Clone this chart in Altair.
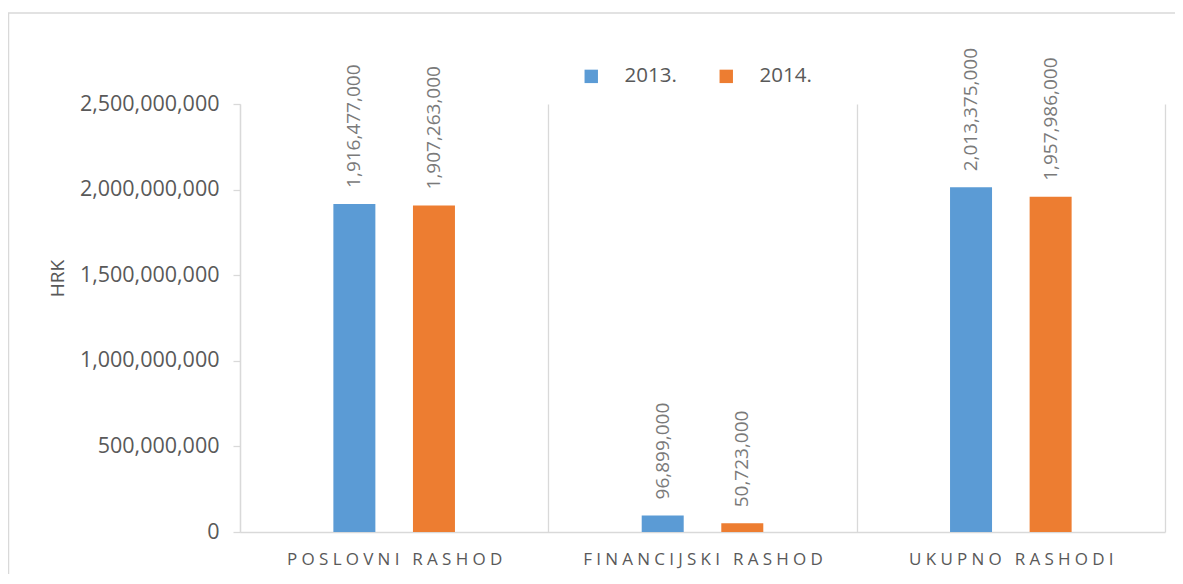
import altair as alt
import pandas as pd

categories = ["POSLOVNI RASHOD", "FINANCIJSKI RASHOD", "UKUPNO RASHODI"]
years = ["2013.", "2014."]
values_2013 = [1916477000, 96899000, 2013375000]
values_2014 = [1907263000, 50723000, 1957986000]
colors = ["#5B9BD5", "#ED7D31"]
y_ticks = [0, 500000000, 1000000000, 1500000000, 2000000000, 2500000000]

rows = []
for c, a, b in zip(categories, values_2013, values_2014):
    rows.append({"cat": c, "year": years[0], "value": a})
    rows.append({"cat": c, "year": years[1], "value": b})
df = pd.DataFrame(rows)

FONT = "Open Sans"
GRID = "#d9d9d9"

x_enc = alt.X(
    "cat:N",
    sort=categories,
    scale=alt.Scale(paddingInner=0, paddingOuter=0),
    axis=alt.Axis(
        title=None,
        labelAngle=0,
        labelFontSize=17,
        labelColor="#595959",
        labelPadding=19,
        labelLimit=500,
        labelExpr="join(split(datum.label, ''), '\u2005')",
        ticks=False,
        tickBand="extent",
        grid=True,
        gridColor=GRID,
        gridWidth=1.3,
        domainColor=GRID,
        domainWidth=1.3,
    ),
)
xo_enc = alt.XOffset(
    "year:N",
    sort=years,
    scale=alt.Scale(paddingInner=0.126, paddingOuter=1),
)
y_enc = alt.Y(
    "value:Q",
    scale=alt.Scale(domain=[0, 2500000000], nice=False),
    axis=alt.Axis(
        title="HRK",
        values=y_ticks,
        format=",d",
        labelFontSize=21.5,
        labelColor="#595959",
        labelPadding=14,
        tickSize=7,
        tickColor=GRID,
        tickWidth=1.3,
        domainColor=GRID,
        domainWidth=1.3,
        grid=False,
        titleFontSize=19,
        titleFontWeight="normal",
        titleColor="#595959",
        titleAngle=270,
        titleX=-183,
        titleY=174,
        titleAlign="center",
        titleBaseline="middle",
    ),
)

bars = alt.Chart(df).mark_bar(width=42).encode(
    x=x_enc,
    xOffset=xo_enc,
    y=y_enc,
    color=alt.Color(
        "year:N",
        sort=years,
        scale=alt.Scale(domain=years, range=colors),
        legend=alt.Legend(
            title=None,
            orient="none",
            legendX=341,
            legendY=-38,
            direction="horizontal",
            symbolType="square",
            symbolSize=180,
            symbolStrokeWidth=0,
            labelFontSize=20.5,
            labelColor="#595959",
            labelOffset=23,
            columnPadding=39,
            padding=0,
        ),
    ),
)

labels = alt.Chart(df).mark_text(
    angle=270,
    align="left",
    baseline="middle",
    dx=16,
    fontSize=19,
    color="#7a7a7a",
    font=FONT,
).encode(
    x=alt.X("cat:N", sort=categories),
    xOffset=alt.XOffset("year:N", sort=years),
    y=alt.Y("value:Q"),
    text=alt.Text("value:Q", format=",d"),
)

border = alt.Chart(alt.Data(values=[{}])).mark_rect(
    fillOpacity=0, stroke=GRID, strokeWidth=1.5
).encode(
    x=alt.value(-231.5),
    x2=alt.value(1100),
    y=alt.value(-91),
    y2=alt.value(700),
)

chart = alt.layer(border, bars, labels).properties(
    width=925,
    height=428,
    autosize=alt.AutoSizeParams(type="none"),
    padding={"left": 232, "top": 96, "right": 10, "bottom": 42},
).configure(
    font=FONT,
).configure_view(stroke=None)

chart.save("out.html", embed_options={"renderer": "svg", "actions": False})
